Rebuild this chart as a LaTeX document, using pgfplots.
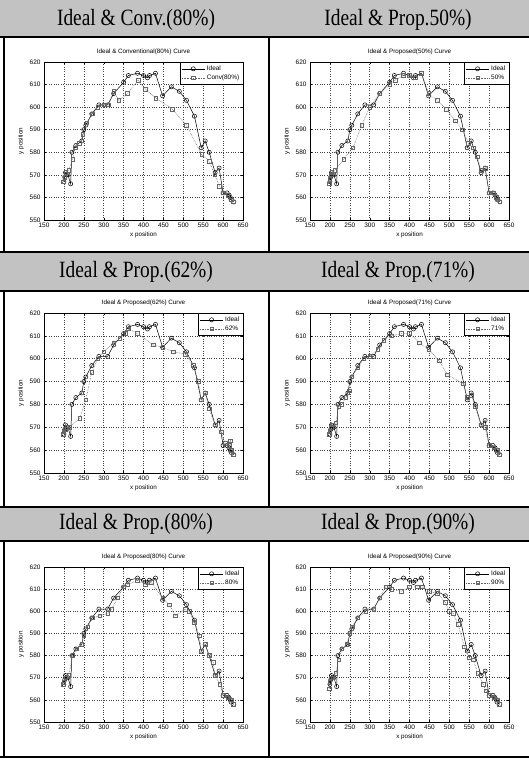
\documentclass[border=0pt]{standalone}
\usepackage{fontspec}
\setmainfont{Liberation Serif}
\newfontfamily\axfont{Liberation Sans}
\usepackage{graphicx}
\usepackage{pgfplots}
\pgfplotsset{compat=1.18}
\usepackage{pgfplotstable}
\definecolor{hdr}{gray}{0.76}

\pgfplotstableread{
x y
200 567
202 569
204 571
206 570
210 570
217 566
220 580
230 583
245 585
250 590
255 592
270 597
288 601
310 601
325 606
350 611
362 614
385 615
400 614
410 613
415 614
430 615
448 605
470 609
490 607
508 603
528 596
545 582
555 585
565 580
580 571
590 573
600 562
610 562
615 561
618 560
620 559
627 558
}\ideal

\pgfplotstableread{
x y
198 567
202 569
205 571
212 572
222 577
228 582
238 584
248 588
258 593
272 597
285 600
300 601
312 601
325 607
338 603
360 606
387 612
405 608
431 604
473 599
508 592
546 579
565 576
579 570
591 565
600 562
612 561
620 559
625 558
}\convA

\pgfplotstableread{
x y
198 566
200 568
203 570
205 571
212 572
235 577
258 582
280 592
300 600
325 606
350 610
365 612
385 614
400 614
415 613
430 615
448 606
470 603
493 599
515 594
533 590
548 584
560 582
570 578
580 572
590 573
600 562
612 562
618 560
622 559
627 558
}\propB

\pgfplotstableread{
x y
198 567
200 568
203 569
207 570
215 570
240 574
255 582
270 594
285 600
300 603
325 607
340 609
355 611
362 613
385 611
425 606
448 605
475 603
505 602
525 597
538 590
545 582
555 585
565 578
580 571
595 568
605 563
615 562
618 564
620 560
625 558
}\propC

\pgfplotstableread{
x y
198 567
200 568
203 570
206 571
215 572
222 579
230 580
240 583
248 586
255 592
270 596
285 600
300 601
320 604
335 608
355 610
380 611
400 611
425 607
448 604
475 599
495 593
535 589
545 583
555 584
565 579
580 571
590 570
600 562
612 561
620 560
625 558
}\propD

\pgfplotstableread{
x y
198 567
200 568
205 570
212 571
222 580
232 583
245 585
250 589
260 593
272 597
290 598
310 599
320 601
335 606
350 611
360 612
385 614
405 612
420 613
448 606
465 603
480 598
505 601
515 600
528 595
540 589
545 582
555 585
565 580
575 577
580 571
592 567
600 562
612 561
620 560
625 558
}\propE

\pgfplotstableread{
x y
198 565
200 568
203 570
207 570
215 572
222 578
230 583
242 585
250 590
256 593
270 597
290 600
310 601
325 606
340 611
355 610
380 609
400 611
420 611
432 611
450 609
470 608
490 604
500 600
510 599
522 594
538 584
550 579
560 578
572 572
585 567
592 564
600 562
612 561
620 560
625 558
}\propF

\pgfplotsset{
  mstyle/.style={
    scale only axis,
    xmin=150, xmax=650, ymin=550, ymax=620,
    xtick={150,200,...,650}, ytick={550,560,...,620},
    grid=major, grid style={dotted, black!75, line width=0.5pt},
    tick align=inside, major tick length=2pt,
    axis line style={black, line width=0.6pt},
    tick style={black, line width=0.4pt},
    /pgf/number format/assume math mode=true,
    /pgf/number format/1000 sep={},
    ticklabel style={font=\axfont\fontsize{6.5}{7}\selectfont},
    xticklabel style={yshift=1pt},
    label style={font=\axfont\fontsize{6.3}{7}\selectfont},
    title style={font=\axfont\fontsize{6.3}{7}\selectfont, yshift=-2pt},
    xlabel={x position}, ylabel={y position},
    xlabel style={yshift=2pt}, ylabel style={yshift=-1pt},
    legend style={at={(1,1)}, anchor=north east, draw=black, line width=0.5pt,
      font=\axfont\fontsize{6.5}{7}\selectfont, inner sep=1.5pt, row sep=-1pt,
      cells={anchor=west}},
    legend cell align=left,
    legend image code/.code={\draw[##1, mark repeat=2, mark phase=2]
      plot coordinates {(0cm,0cm) (0.4cm,0cm) (0.8cm,0cm)};},
  },
  idl/.style={black, line width=0.5pt, mark=o, mark size=2.1pt, mark options={solid}},
  prp/.style={black!60, densely dotted, line width=0.6pt, mark=square, mark size=1.8pt, mark options={solid}},
}

\newcommand{\hd}[1]{\fontsize{19.5}{20}\selectfont\scalebox{1}[1.2]{#1}}

\begin{document}
\begin{tikzpicture}
\begin{scope}[x=1bp,y=1bp]
\useasboundingbox (0,0) rectangle (529,761);
% header bands
\fill[hdr] (0,761) rectangle (529,724);
\fill[hdr] (0,509) rectangle (529,470);
\fill[hdr] (0,254) rectangle (529,220);
% frame lines
\draw[line width=1.2pt] (0,724) -- (529,724);
\draw[line width=1.2pt] (0,509) -- (529,509);
\draw[line width=1.2pt] (0,470) -- (529,470);
\draw[line width=1.2pt] (0,254) -- (529,254);
\draw[line width=1.2pt] (0,220) -- (529,220);
\draw[line width=1.2pt] (0,4) -- (529,4);
\foreach \xx in {4,269}{
  \draw[line width=1.3pt] (\xx,724) -- (\xx,509);
  \draw[line width=1.3pt] (\xx,470) -- (\xx,254);
  \draw[line width=1.3pt] (\xx,220) -- (\xx,4);
}
% header titles
\node at (136,741) {\hd{Ideal \& Conv.(80\%)}};
\node at (398,741) {\hd{Ideal \& Prop.50\%)}};
\node at (136,489) {\hd{Ideal \& Prop.(62\%)}};
\node at (398,489) {\hd{Ideal \& Prop.(71\%)}};
\node at (136,237) {\hd{Ideal \& Prop.(80\%)}};
\node at (398,237) {\hd{Ideal \& Prop.(90\%)}};
\end{scope}

% Row 1
\begin{axis}[mstyle, at={(44bp,699bp)}, anchor=north west, width=199bp, height=158bp,
  title={Ideal \& Conventional(80\%) Curve}]
\addplot[idl] table {\ideal};
\addplot[prp] table {\convA};
\legend{Ideal, Conv(80\%)}
\end{axis}
\begin{axis}[mstyle, at={(310bp,699bp)}, anchor=north west, width=199bp, height=158bp,
  title={Ideal \& Proposed(50\%) Curve}]
\addplot[idl] table {\ideal};
\addplot[prp] table {\propB};
\legend{Ideal, 50\%}
\end{axis}
% Row 2
\begin{axis}[mstyle, at={(44bp,448bp)}, anchor=north west, width=199bp, height=160bp,
  title={Ideal \& Proposed(62\%) Curve}]
\addplot[idl] table {\ideal};
\addplot[prp] table {\propC};
\legend{Ideal, 62\%}
\end{axis}
\begin{axis}[mstyle, at={(310bp,448bp)}, anchor=north west, width=199bp, height=160bp,
  title={Ideal \& Proposed(71\%) Curve}]
\addplot[idl] table {\ideal};
\addplot[prp] table {\propD};
\legend{Ideal, 71\%}
\end{axis}
% Row 3
\begin{axis}[mstyle, at={(44bp,194bp)}, anchor=north west, width=199bp, height=155bp,
  title={Ideal \& Proposed(80\%) Curve}]
\addplot[idl] table {\ideal};
\addplot[prp] table {\propE};
\legend{Ideal, 80\%}
\end{axis}
\begin{axis}[mstyle, at={(310bp,194bp)}, anchor=north west, width=199bp, height=155bp,
  title={Ideal \& Proposed(90\%) Curve}]
\addplot[idl] table {\ideal};
\addplot[prp] table {\propF};
\legend{Ideal, 90\%}
\end{axis}
\end{tikzpicture}
\end{document}
